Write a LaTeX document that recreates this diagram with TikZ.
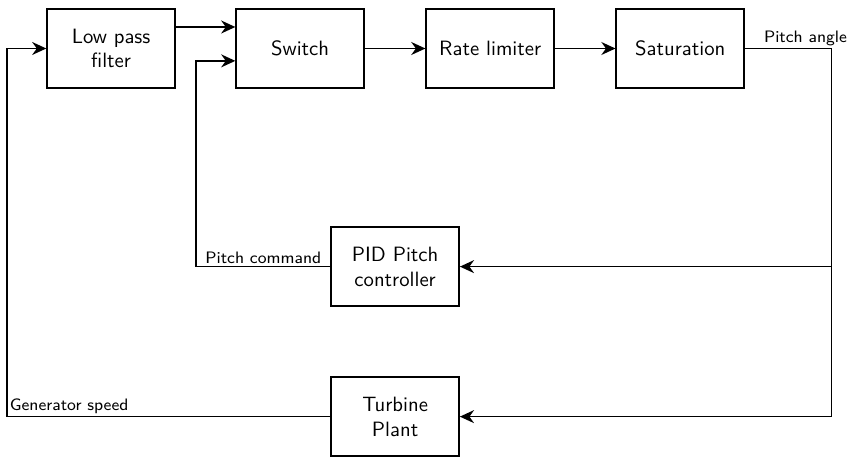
\documentclass[tikz,border=0pt]{standalone}
\usetikzlibrary{arrows.meta,positioning,calc}

\tikzset{
  blockbox/.style={draw, thick, minimum width=2.17cm, minimum height=1.34cm, align=center, font=\sffamily},
  sigline/.style={thick, -{Stealth[length=2.4mm, width=2.2mm]}},
  siglabel/.style={font=\sffamily\footnotesize, inner sep=1pt}
}

\begin{document}
\begin{tikzpicture}
  \useasboundingbox (0,0) rectangle (14.46,-7.76);

  %% forward path
  \node[blockbox] (lpf) at (1.885,-0.823) {Low pass\\filter};
  \node[blockbox] (sw)  at (5.093,-0.823) {Switch};
  \node[blockbox] (rl)  at (8.319,-0.823) {Rate limiter};
  \node[blockbox] (sat) at (11.545,-0.823) {Saturation};

  %% feedback blocks
  \node[blockbox] (pid) at (6.706,-4.525) {PID Pitch\\controller};
  \node[blockbox] (tur) at (6.706,-7.071) {Turbine\\Plant};

  %% corners of the loops
  \coordinate (pa) at (14.11,-0.823);
  \coordinate (pc) at (3.33,-4.525);
  \coordinate (gs) at (0.119,-7.071);

  %% forward arrows
  \draw[sigline] ([yshift=0.365cm]lpf.east) -- ([yshift=0.365cm]sw.west);
  \draw[sigline] (sw) -- (rl);
  \draw[sigline] (rl) -- (sat);

  %% pitch angle out to the controllers
  \draw[thick] (sat.east) -- node[siglabel, above, pos=0.7]{Pitch angle} (pa);
  \draw[sigline] (pa) |- (pid.east);
  \draw[sigline] (pa) |- (tur.east);

  %% pitch command back to the switch
  \draw[thick] (pid.west) -- node[siglabel, above]{Pitch command} (pc);
  \draw[sigline] (pc) |- ([yshift=-0.21cm]sw.west);

  %% generator speed back to the filter
  \draw[thick] (tur.west) -- (gs) node[siglabel, above right]{Generator speed};
  \draw[sigline] (gs) |- (lpf.west);
\end{tikzpicture}
\end{document}
